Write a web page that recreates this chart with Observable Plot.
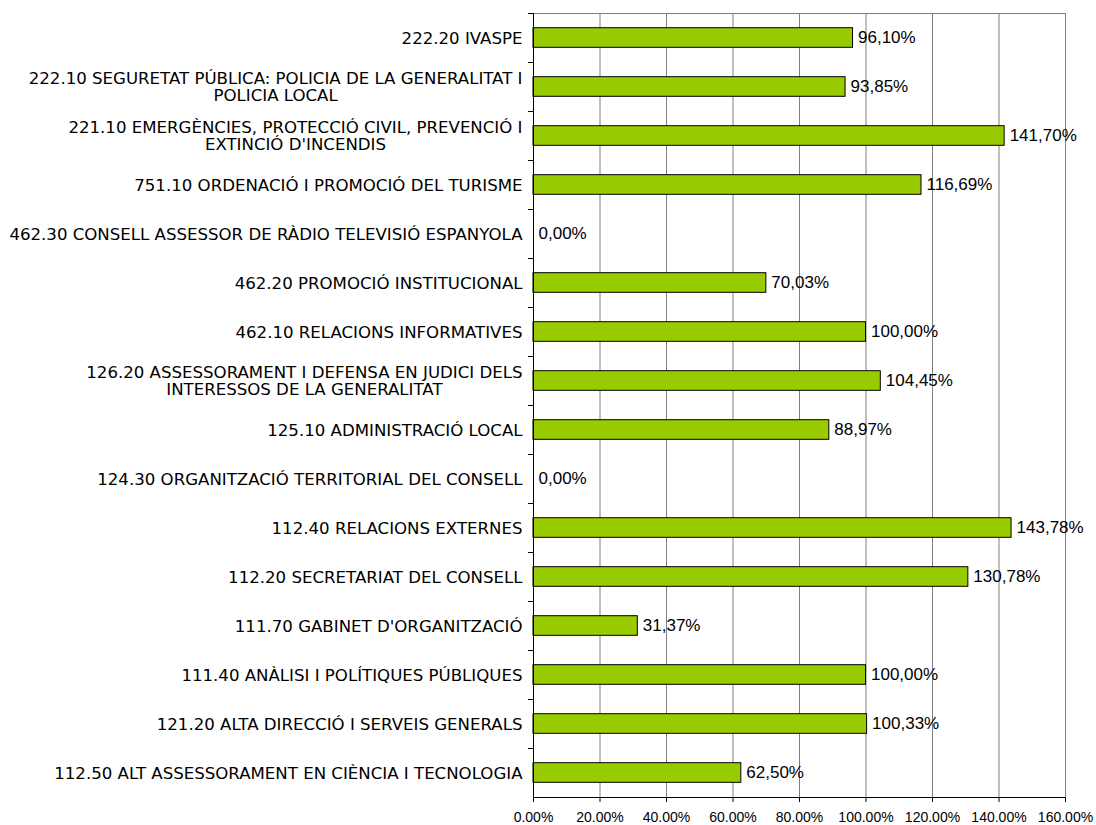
<!DOCTYPE html>
<html><head><meta charset="utf-8">
<script src="https://cdn.jsdelivr.net/npm/d3@7"></script>
<script src="https://cdn.jsdelivr.net/npm/@observablehq/plot@0.6"></script>
<style>body{margin:0;background:#fff}</style>
</head><body><div id="chart"></div>
<script>
const categories = [
  "222.20 IVASPE",
  "222.10 SEGURETAT PÚBLICA: POLICIA DE LA GENERALITAT I\nPOLICIA LOCAL",
  "221.10 EMERGÈNCIES, PROTECCIÓ CIVIL, PREVENCIÓ I\nEXTINCIÓ D'INCENDIS",
  "751.10 ORDENACIÓ I PROMOCIÓ DEL TURISME",
  "462.30 CONSELL ASSESSOR DE RÀDIO TELEVISIÓ ESPANYOLA",
  "462.20 PROMOCIÓ INSTITUCIONAL",
  "462.10 RELACIONS INFORMATIVES",
  "126.20 ASSESSORAMENT I DEFENSA EN JUDICI DELS\nINTERESSOS DE LA GENERALITAT",
  "125.10 ADMINISTRACIÓ LOCAL",
  "124.30 ORGANITZACIÓ TERRITORIAL DEL CONSELL",
  "112.40 RELACIONS EXTERNES",
  "112.20 SECRETARIAT DEL CONSELL",
  "111.70 GABINET D'ORGANITZACIÓ",
  "111.40 ANÀLISI I POLÍTIQUES PÚBLIQUES",
  "121.20 ALTA DIRECCIÓ I SERVEIS GENERALS",
  "112.50 ALT ASSESSORAMENT EN CIÈNCIA I TECNOLOGIA"
];
const values = [96.10, 93.85, 141.70, 116.69, 0.00, 70.03, 100.00, 104.45, 88.97, 0.00, 143.78, 130.78, 31.37, 100.00, 100.33, 62.50];
const xTicks = [0, 20, 40, 60, 80, 100, 120, 140, 160];

const data = categories.map((c, i) => ({category: c, value: values[i]}));
const W = 1096, H = 825, mt = 13, mb = 28, ml = 533, mr = 31;
const n = categories.length;
const step = (H - mt - mb) / n;
const first = categories[0], last = categories[n - 1];

const chart = Plot.plot({
  width: W, height: H,
  marginTop: mt, marginBottom: mb, marginLeft: ml, marginRight: mr,
  x: {domain: [0, 160], axis: null},
  y: {domain: categories, paddingInner: 0.6, paddingOuter: 0.3, round: false, axis: null},
  style: {background: "#fff", overflow: "visible"},
  marks: [
    Plot.ruleX(xTicks.slice(1), {stroke: "#808080", strokeWidth: 1}),
    Plot.ruleY([first], {dy: -step / 2, stroke: "#808080", strokeWidth: 1}),
    Plot.barX(data, {x: "value", y: "category", fill: "#99CC00", stroke: "#000", strokeWidth: 1}),
    Plot.ruleX([0], {stroke: "#000", strokeWidth: 1}),
    Plot.ruleY(categories, {x1: -1.5, x2: 0, dy: -step / 2, stroke: "#000"}),
    Plot.ruleY([last], {dy: step / 2, stroke: "#000", strokeWidth: 1}),
    Plot.axisX(xTicks, {tickSize: 5, tickPadding: 10, stroke: "#000", tickFormat: d => d.toFixed(2) + "%", fontSize: 14, fontFamily: "Liberation Sans, Arial, sans-serif", fill: "#000", label: null}),
    Plot.text(data, {x: "value", y: "category", text: d => d.value.toFixed(2).replace(".", ",") + "%", textAnchor: "start", dx: 5, dy: 0, fontSize: 17, fontFamily: "Liberation Sans, Arial, sans-serif", fill: "#000"}),
    Plot.text(data, {y: "category", text: "category", frameAnchor: "left", textAnchor: "end", dx: -11, lineHeight: 1.05, fontSize: 16.6, fontFamily: "DejaVu Sans, Verdana, sans-serif", fill: "#000"})
  ]
});
document.getElementById("chart").appendChild(chart);

// center multi-line category labels on their longest line (right-aligned block)
const textGroups = chart.querySelectorAll('g[aria-label="text"]');
const catGroup = textGroups[textGroups.length - 1];
catGroup.querySelectorAll("text").forEach(function(t) {
  const tspans = t.querySelectorAll("tspan");
  if (tspans.length < 2) return;
  let w = 0;
  tspans.forEach(s => { w = Math.max(w, s.getComputedTextLength()); });
  t.setAttribute("text-anchor", "middle");
  tspans.forEach(s => { s.setAttribute("x", -w / 2); s.setAttribute("text-anchor", "middle"); });
});
</script>
</body></html>
